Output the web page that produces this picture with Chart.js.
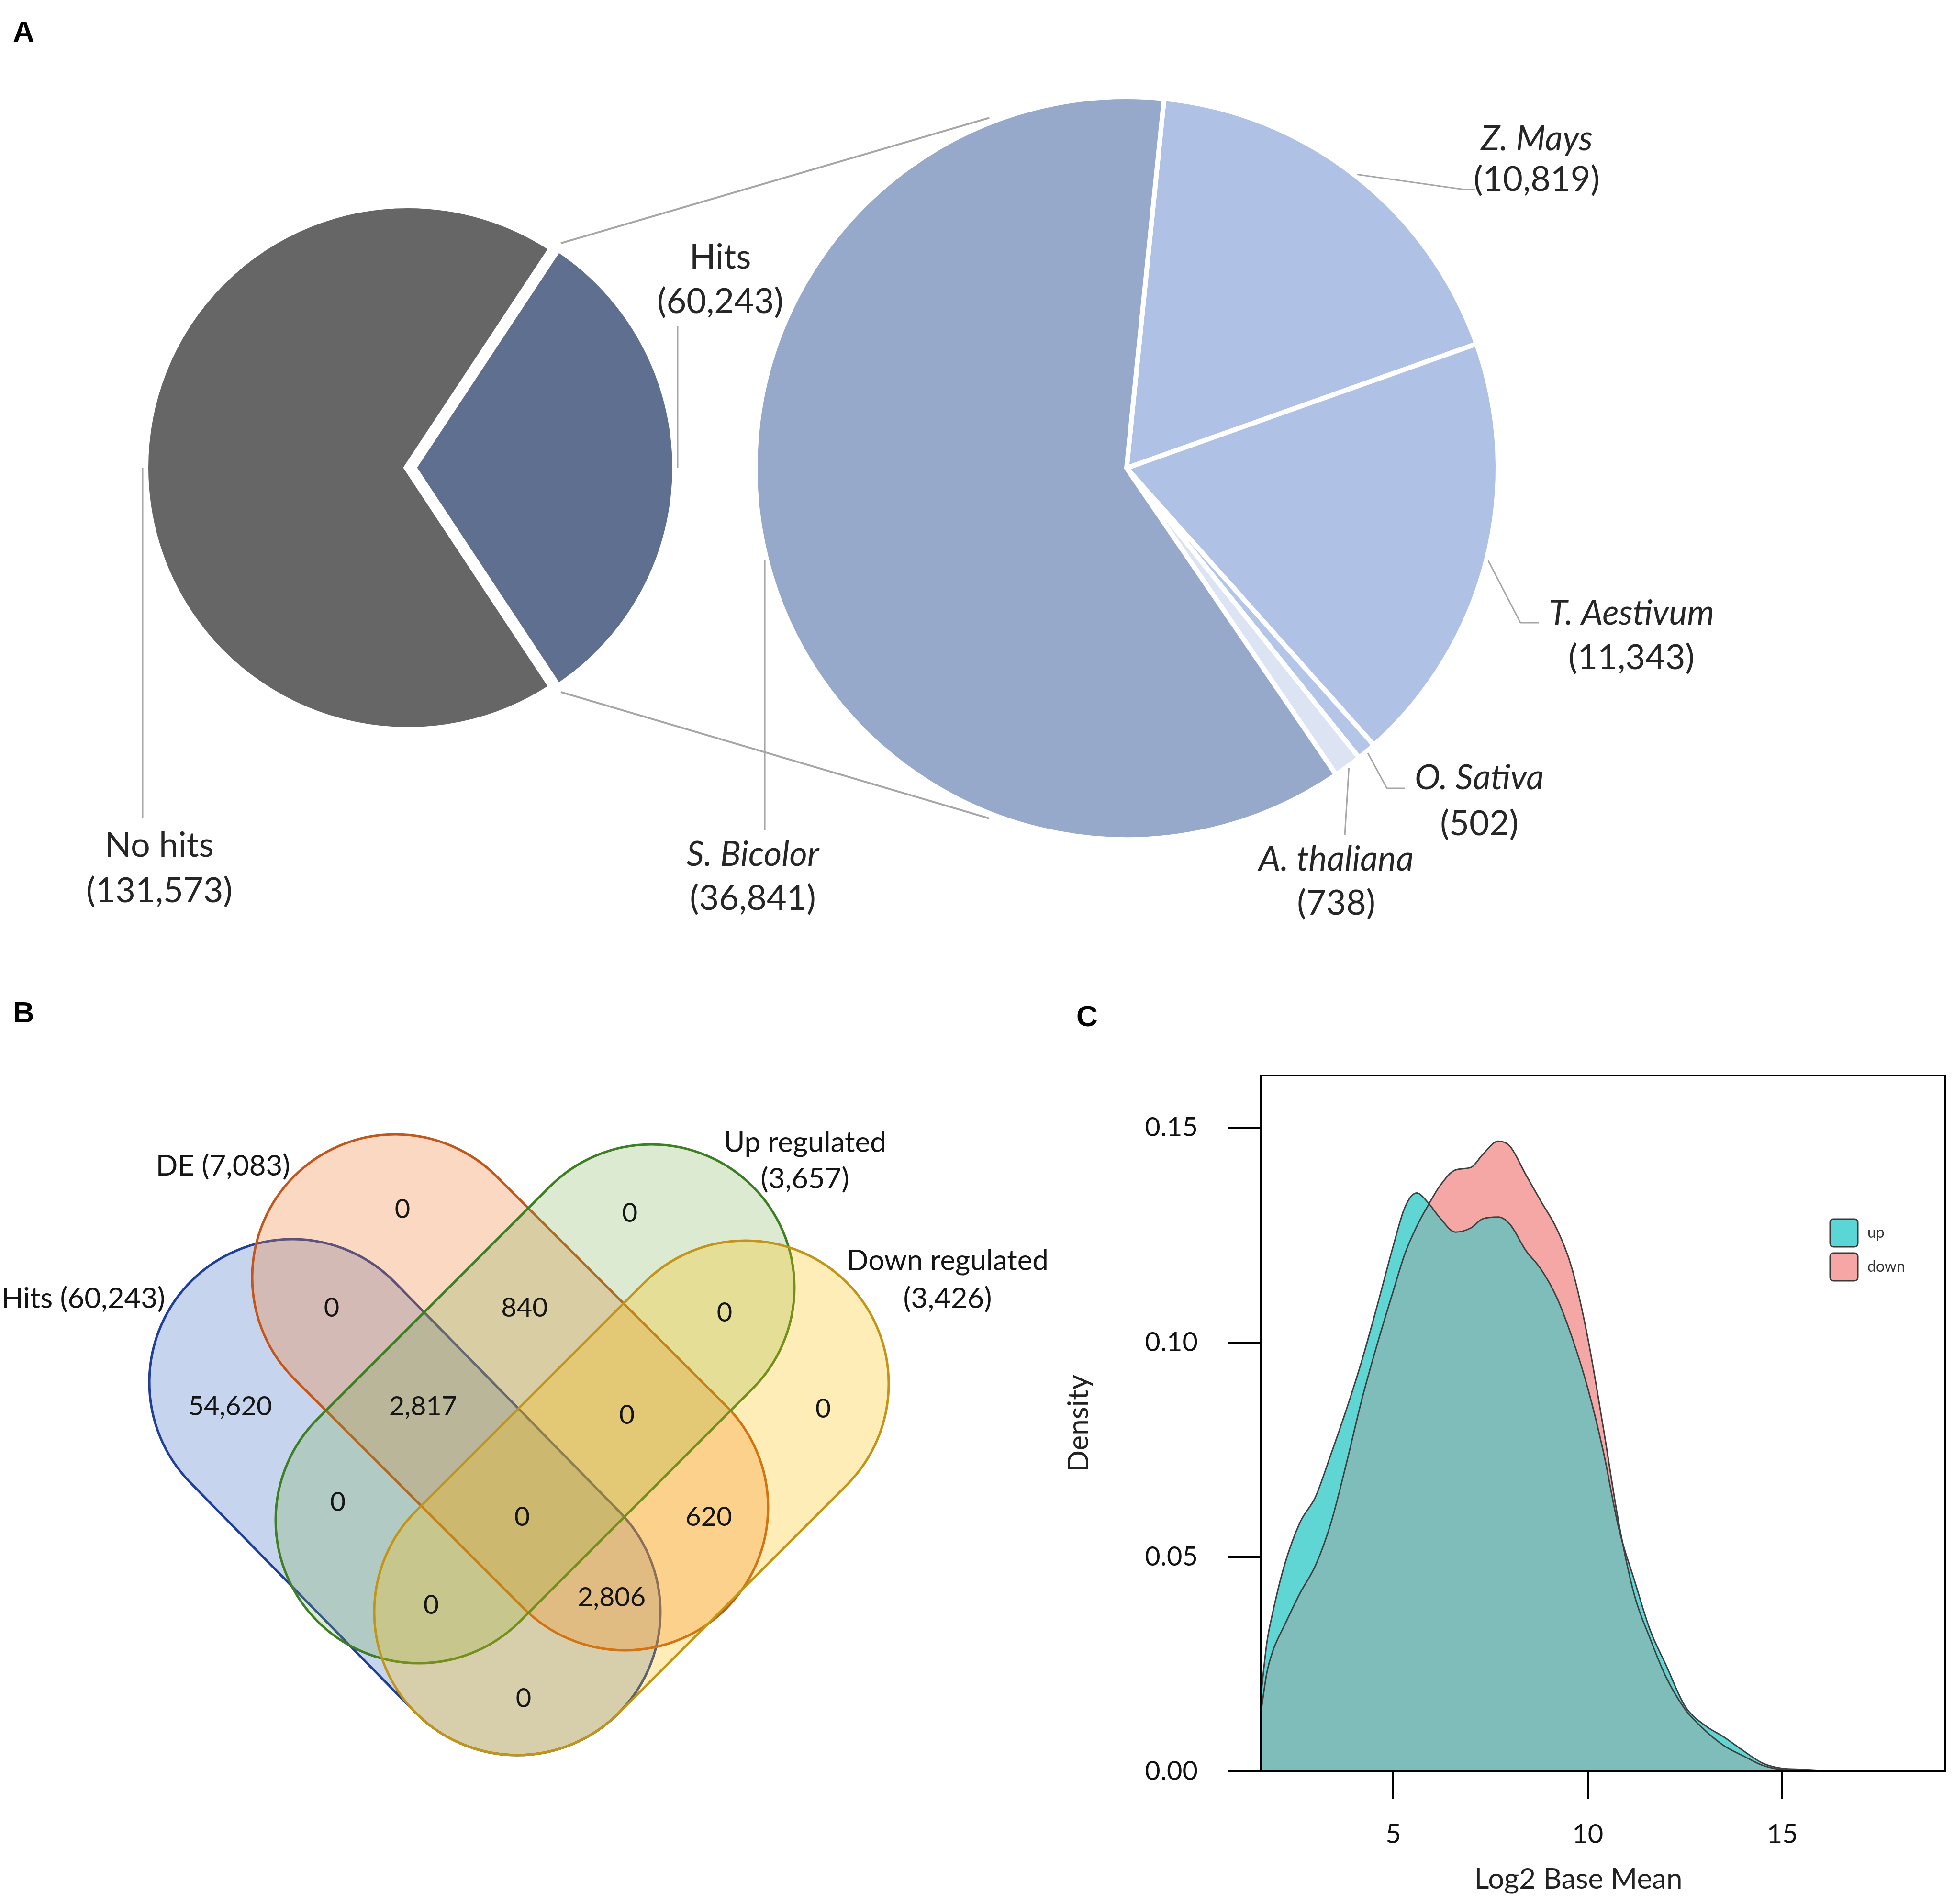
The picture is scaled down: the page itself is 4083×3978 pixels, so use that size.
<!DOCTYPE html>
<html>
<head>
<meta charset="utf-8">
<title>Hits, DE genes and expression density</title>
<script src="https://cdn.jsdelivr.net/npm/chart.js@4.4.1/dist/chart.umd.min.js"></script>
<style>
  html, body { margin: 0; padding: 0; background: #fff; }
  body { position: relative; width: 4083px; height: 3978px; overflow: hidden; font-family: Lato, "Open Sans", sans-serif; }
  canvas { position: absolute; }
  .tag { position: absolute; font: bold 62px "Liberation Sans", Arial, sans-serif; line-height: 1; color: #000; }
</style>
</head>
<body>
<div class="tag" style="left:27px;top:35px">A</div>
<div class="tag" style="left:27px;top:2084px">B</div>
<div class="tag" style="left:2249px;top:2092px">C</div>
<canvas id="pieLeft" width="4083" height="2050" style="left:0;top:0"></canvas>
<canvas id="pieRight" width="4083" height="2050" style="left:0;top:0"></canvas>
<canvas id="venn" width="2200" height="1828" style="left:0;top:2150px"></canvas>
<canvas id="density" width="1883" height="1828" style="left:2200px;top:2150px"></canvas>
<script>
// ---------- data ----------
const hitLabels = ['Hits', 'No hits']
const hitCounts = [60243, 131573]

const speciesLabels = ['Z. Mays', 'T. Aestivum', 'O. Sativa', 'A. thaliana', 'S. Bicolor']
const speciesCounts = [10819, 11343, 502, 738, 36841]

const vennSets = ['Hits', 'DE', 'Up regulated', 'Down regulated']
const vennSetSizes = [60243, 7083, 3657, 3426]
const vennRegions = ['DE', 'Up', 'Hits&DE', 'DE&Up', 'Up&Down', 'Hits', 'Hits&DE&Up', 'DE&Up&Down',
  'Down', 'Hits&Up', 'all', 'DE&Down', 'Hits&Up&Down', 'Hits&DE&Down', 'Hits&Down']
const vennCounts = [0, 0, 0, 840, 0, 54620, 2817, 0, 0, 0, 0, 620, 0, 2806, 0]

const densityNames = ['up', 'down']
const densityX = [1.6, 1.75, 1.9, 2.2, 2.6, 3.0, 3.4, 3.8, 4.2, 4.6, 5.0, 5.3, 5.6, 5.9, 6.2, 6.6, 7.0, 7.3,
  7.7, 8.0, 8.4, 8.8, 9.2, 9.6, 10.0, 10.4, 10.8, 11.2, 11.6, 12.0, 12.5, 13.0, 13.5, 14.0, 14.5, 15.0, 15.5, 16.0]
const densityUp = [0.018, 0.030, 0.037, 0.048, 0.058, 0.064, 0.074, 0.0845, 0.096, 0.109, 0.1225, 0.1315,
  0.1348, 0.1325, 0.129, 0.1257, 0.1267, 0.1288, 0.1292, 0.1275, 0.1215, 0.117, 0.1105, 0.101, 0.0893,
  0.0745, 0.0565, 0.0445, 0.033, 0.025, 0.0152, 0.0108, 0.008, 0.0048, 0.0019, 0.0007, 0.0005, 0.0002]
const densityDown = [0.014, 0.023, 0.028, 0.034, 0.0415, 0.048, 0.058, 0.072, 0.087, 0.100, 0.112, 0.1207,
  0.127, 0.132, 0.1365, 0.1402, 0.1408, 0.1438, 0.1469, 0.1457, 0.1392, 0.1328, 0.1265, 0.117, 0.101,
  0.080, 0.0577, 0.041, 0.031, 0.0222, 0.0145, 0.0097, 0.006, 0.0036, 0.0014, 0.0004, 0.0002, 0]
const densityTicksX = [5, 10, 15]
const densityTicksY = [0, 0.05, 0.10, 0.15]

// ---------- layout / style ----------
const FONT = 'Lato, "Open Sans", sans-serif'
const TEXT = '#262626'
const LEADER = '#a6a6a6'

function fmt(n) { return n.toLocaleString('en-US') }

// leader polylines after the slice edge point (null x = keep the x of the edge point)
const hitLeader = [[[null, 682]], [[null, 1709]]]
const hitText = [[1505, 538, 631], [333, 1767, 1862]]
const speciesLeader = [
  [[3060, 396], [3082, 396]],
  [[3177, 1301], [3216, 1301]],
  [[2898, 1647], [2935, 1647]],
  [[2810, 1745]],
  [[null, 1735]]
]
const speciesText = [[3211, 291, 376], [3409, 1282, 1375], [3091, 1626, 1722], [2792, 1796, 1888], [1573, 1786, 1878]]
const linkAngle = 111.4 * Math.PI / 180

function edgePoint(arc, extra) {
  const mid = (arc.startAngle + arc.endAngle) / 2
  const shift = (arc.options.offset || 0) / 4
  const r = arc.outerRadius + extra + shift
  return [arc.x + Math.cos(mid) * r, arc.y + Math.sin(mid) * r]
}

function drawLeader(ctx, arc, pts) {
  const [x, y] = edgePoint(arc, 4)
  ctx.beginPath()
  ctx.moveTo(x, y)
  pts.forEach(p => ctx.lineTo(p[0] === null ? x : p[0], p[1]))
  ctx.stroke()
}

function drawLabel(ctx, name, count, pos, italic) {
  ctx.font = (italic ? 'italic ' : '') + '72px ' + FONT
  ctx.fillText(name, pos[0], pos[1])
  ctx.font = '72px ' + FONT
  ctx.fillText('(' + fmt(count) + ')', pos[0], pos[2])
}

// ---------- panel A ----------
const leftChart = new Chart(document.getElementById('pieLeft'), {
  type: 'pie',
  data: {
    labels: hitLabels,
    datasets: [{
      data: hitCounts,
      backgroundColor: ['#5f6f8f', '#666666'],
      borderColor: '#ffffff',
      borderWidth: 16,
      borderJoinStyle: 'miter',
      offset: [40, 0]
    }]
  },
  options: {
    responsive: false, animation: false, devicePixelRatio: 1, events: [],
    rotation: 33.47,
    radius: 550,
    layout: { padding: { left: 0, right: 2379, top: 0, bottom: 96 } },
    plugins: { legend: { display: false }, tooltip: { enabled: false } }
  }
})

const pieLabels = {
  id: 'pieLabels',
  afterDraw(chart) {
    const ctx = chart.ctx
    const right = chart.getDatasetMeta(0).data
    const left = leftChart.getDatasetMeta(0).data
    ctx.save()
    // lines joining the Hits slice to the second pie
    const hit = left[0]
    const shift = (hit.options.offset || 0) / 4
    const hm = (hit.startAngle + hit.endAngle) / 2
    const hx = hit.x + Math.cos(hm) * shift
    const hy = hit.y + Math.sin(hm) * shift
    const c = right[0]
    ctx.strokeStyle = LEADER
    ctx.lineWidth = 4
    ;[[hit.startAngle, -linkAngle], [hit.endAngle, linkAngle]].forEach(([a, b]) => {
      ctx.beginPath()
      ctx.moveTo(hx + Math.cos(a) * (hit.outerRadius + 12), hy + Math.sin(a) * (hit.outerRadius + 12))
      ctx.lineTo(c.x + Math.cos(b) * (c.outerRadius + 10), c.y + Math.sin(b) * (c.outerRadius + 10))
      ctx.stroke()
    })
    // leader lines
    ctx.lineWidth = 3
    left.forEach((arc, i) => drawLeader(ctx, arc, hitLeader[i]))
    right.forEach((arc, i) => drawLeader(ctx, arc, speciesLeader[i]))
    // labels
    ctx.fillStyle = TEXT
    ctx.textAlign = 'center'
    ctx.textBaseline = 'middle'
    hitLabels.forEach((n, i) => drawLabel(ctx, n, hitCounts[i], hitText[i], false))
    speciesLabels.forEach((n, i) => drawLabel(ctx, n, speciesCounts[i], speciesText[i], true))
    ctx.restore()
  }
}

new Chart(document.getElementById('pieRight'), {
  type: 'pie',
  data: {
    labels: speciesLabels,
    datasets: [{
      data: speciesCounts,
      backgroundColor: ['#afc2e6', '#afc2e6', '#b4c6e8', '#dce4f4', '#97a9cb'],
      borderColor: '#ffffff',
      borderWidth: 10,
      borderJoinStyle: 'miter'
    }]
  },
  options: {
    responsive: false, animation: false, devicePixelRatio: 1, events: [],
    rotation: 5.8,
    radius: 776,
    layout: { padding: { left: 625, right: 0, top: 0, bottom: 94 } },
    plugins: { legend: { display: false }, tooltip: { enabled: false } }
  },
  plugins: [pieLabels]
})

// ---------- panel B ----------
// each set is a stadium: the two cap centres and the cap radius, in page px
const vennShapes = [
  { c1: [611, 2888], c2: [1081, 3368], fill: 'rgba(68,114,196,0.30)', line: '#203f9a' },
  { c1: [826, 2669], c2: [1306, 3149], fill: 'rgba(237,125,49,0.30)', line: '#c4561a' },
  { c1: [1361, 2690], c2: [875, 3176], fill: 'rgba(112,173,71,0.25)', line: '#3f7f24' },
  { c1: [1558, 2891], c2: [1081, 3368], fill: 'rgba(255,192,0,0.28)', line: '#c29518' }
]
const vennR = 299
const vennRegionPos = [[841, 2527], [1316, 2535], [693, 2733], [1096, 2733], [1514, 2743], [481, 2939],
  [884, 2939], [1310, 2957], [1720, 2944], [706, 3139], [1091, 3170], [1481, 3170], [901, 3354],
  [1278, 3338], [1094, 3549]]
const vennSetPos = [
  { x: 174, y: 2714, split: false },
  { x: 466, y: 2437, split: false },
  { x: 1682, y: 2388, split: true, dy: 76 },
  { x: 1980, y: 2635, split: true, dy: 79 }
]

const vennDraw = {
  id: 'vennDraw',
  beforeDatasetsDraw(chart) {
    const ctx = chart.ctx
    const sx = chart.scales.x, sy = chart.scales.y
    const r = sx.getPixelForValue(vennR) - sx.getPixelForValue(0)
    ctx.save()
    ctx.lineWidth = 5
    vennShapes.forEach(s => {
      const x1 = sx.getPixelForValue(s.c1[0]), y1 = sy.getPixelForValue(s.c1[1])
      const x2 = sx.getPixelForValue(s.c2[0]), y2 = sy.getPixelForValue(s.c2[1])
      const a = Math.atan2(y2 - y1, x2 - x1)
      ctx.beginPath()
      ctx.arc(x1, y1, r, a + Math.PI / 2, a + 3 * Math.PI / 2)
      ctx.arc(x2, y2, r, a - Math.PI / 2, a + Math.PI / 2)
      ctx.closePath()
      ctx.fillStyle = s.fill
      ctx.fill()
      ctx.strokeStyle = s.line
      ctx.stroke()
    })
    ctx.restore()
  },
  afterDatasetsDraw(chart) {
    const ctx = chart.ctx
    const sx = chart.scales.x, sy = chart.scales.y
    ctx.save()
    ctx.fillStyle = '#151515'
    ctx.textAlign = 'center'
    ctx.textBaseline = 'middle'
    ctx.font = '56px ' + FONT
    chart.getDatasetMeta(0).data.forEach((pt, i) => ctx.fillText(fmt(vennCounts[i]), pt.x, pt.y))
    ctx.font = '60px ' + FONT
    vennSets.forEach((name, i) => {
      const p = vennSetPos[i]
      const x = sx.getPixelForValue(p.x), y = sy.getPixelForValue(p.y)
      const size = '(' + fmt(vennSetSizes[i]) + ')'
      if (p.split) {
        ctx.fillText(name, x, y)
        ctx.fillText(size, x, y + p.dy)
      } else {
        ctx.fillText(name + ' ' + size, x, y)
      }
    })
    ctx.restore()
  }
}

new Chart(document.getElementById('venn'), {
  type: 'scatter',
  data: {
    labels: vennRegions,
    datasets: [{ data: vennRegionPos.map(([x, y]) => ({ x, y })), pointRadius: 0, pointHitRadius: 0 }]
  },
  options: {
    responsive: false, animation: false, devicePixelRatio: 1, events: [],
    layout: { padding: 0, autoPadding: false },
    scales: {
      x: { type: 'linear', min: 0, max: 2200, display: false },
      y: { type: 'linear', min: 2150, max: 3978, reverse: true, display: false }
    },
    plugins: { legend: { display: false }, tooltip: { enabled: false } }
  },
  plugins: [vennDraw]
})

// ---------- panel C ----------
const upFill = '#5fd5d4'
const downFill = '#f4a7a4'
const bothFill = '#7fbdba'
const legendBox = { x: 1624, y: 397, size: 58, step: 71 }

const densityDecor = {
  id: 'densityDecor',
  afterDraw(chart) {
    const ctx = chart.ctx
    const a = chart.chartArea
    ctx.save()
    ctx.strokeStyle = '#000'
    ctx.lineWidth = 4
    ctx.strokeRect(a.left, a.top, a.right - a.left, a.bottom - a.top)
    // legend: up first, then down
    ;[1, 0].forEach((di, k) => {
      const ds = chart.data.datasets[di]
      const y = legendBox.y + k * legendBox.step
      ctx.beginPath()
      ctx.roundRect(legendBox.x, y, legendBox.size, legendBox.size, 7)
      ctx.fillStyle = ds.legendColor
      ctx.fill()
      ctx.lineWidth = 3
      ctx.strokeStyle = '#3a3a3a'
      ctx.stroke()
      ctx.fillStyle = '#333'
      ctx.font = '32px ' + FONT
      ctx.textAlign = 'left'
      ctx.textBaseline = 'middle'
      ctx.fillText(ds.label, legendBox.x + legendBox.size + 20, y + legendBox.size / 2)
    })
    // x axis title
    ctx.fillStyle = '#222'
    ctx.font = '60px ' + FONT
    ctx.textAlign = 'center'
    ctx.textBaseline = 'middle'
    ctx.fillText('Log2 Base Mean', 1098, 1777)
    ctx.restore()
  }
}

const tickFont = { family: FONT, size: 56 }

new Chart(document.getElementById('density'), {
  type: 'line',
  data: {
    datasets: [
      {
        label: densityNames[1],
        data: densityX.map((x, i) => ({ x, y: densityDown[i] })),
        order: 2,
        fill: 'origin',
        backgroundColor: bothFill,
        legendColor: '#f6a6a4',
        borderColor: '#404040',
        borderWidth: 3,
        pointRadius: 0,
        cubicInterpolationMode: 'monotone'
      },
      {
        label: densityNames[0],
        data: densityX.map((x, i) => ({ x, y: densityUp[i] })),
        order: 1,
        fill: { target: 0, above: upFill, below: downFill },
        backgroundColor: upFill,
        legendColor: '#5bd6d6',
        borderColor: '#404040',
        borderWidth: 3,
        pointRadius: 0,
        cubicInterpolationMode: 'monotone'
      }
    ]
  },
  options: {
    responsive: false, animation: false, devicePixelRatio: 1, events: [],
    layout: { padding: { top: 97, right: 19, left: 0, bottom: 0 }, autoPadding: false },
    plugins: {
      legend: { display: false },
      tooltip: { enabled: false },
      filler: { drawTime: 'beforeDatasetsDraw' }
    },
    scales: {
      x: {
        type: 'linear', min: 1.6, max: 19.18,
        afterFit(s) { s.height = 277 },
        afterBuildTicks(s) { s.ticks = densityTicksX.map(v => ({ value: v })) },
        grid: { drawOnChartArea: false, tickLength: 58, color: '#000', lineWidth: 4 },
        border: { color: '#000', width: 4 },
        ticks: { font: tickFont, color: '#111', padding: 40, maxRotation: 0 }
      },
      y: {
        type: 'linear', min: 0, max: 0.1622,
        afterFit(s) { s.width = 435 },
        afterBuildTicks(s) { s.ticks = densityTicksY.map(v => ({ value: v })) },
        grid: { drawOnChartArea: false, tickLength: 70, color: '#000', lineWidth: 4 },
        border: { color: '#000', width: 4 },
        ticks: { font: tickFont, color: '#111', padding: 62, callback: v => v.toFixed(2) },
        title: { display: true, text: 'Density', color: '#222', font: { family: FONT, size: 60 }, padding: { top: 19, bottom: 0 } }
      }
    }
  },
  plugins: [densityDecor]
})
</script>
</body>
</html>
